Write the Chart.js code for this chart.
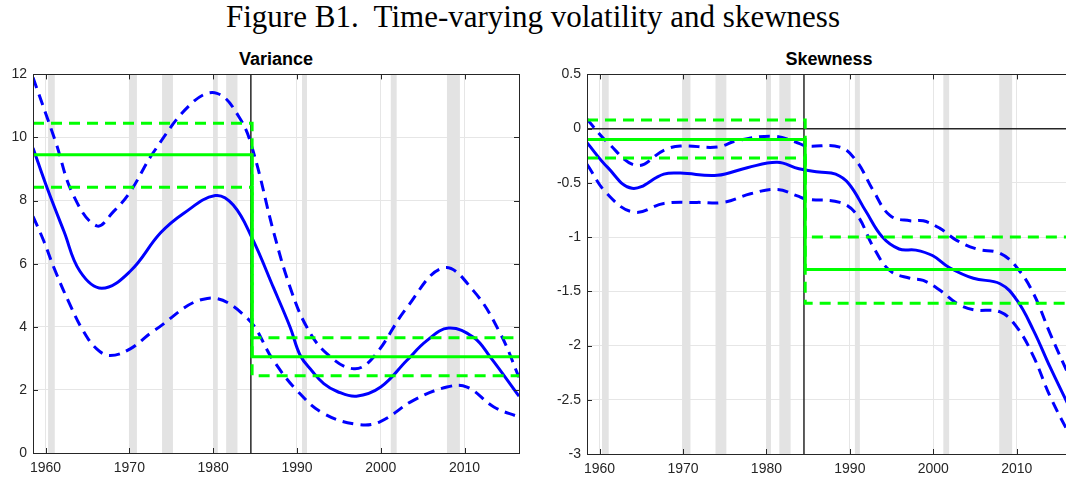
<!DOCTYPE html>
<html>
<head>
<meta charset="utf-8">
<title>Figure B1</title>
<script src="https://cdn.jsdelivr.net/npm/chart.js"></script>
<style>
  html, body { margin: 0; padding: 0; background: #fff; overflow: hidden; }
  #wrap { position: relative; width: 1066px; height: 478px; overflow: hidden; }
  .fig-title {
    position: absolute; left: 0; top: 0; width: 1066px; line-height: 34px;
    text-align: center; font-family: 'Liberation Serif', serif; font-size: 31px; color: #000;
    white-space: pre;
  }
  .panel-title {
    position: absolute; top: 49px; line-height: 20px; text-align: center;
    font-family: 'Liberation Sans', Arial, sans-serif; font-weight: bold; font-size: 18px; color: #000;
  }
  canvas { position: absolute; }
</style>
</head>
<body>
<div id="wrap">
  <div class="fig-title">Figure B1.  Time-varying volatility and skewness</div>
  <div class="panel-title" style="left:33px; width:486px;">Variance</div>
  <div class="panel-title" style="left:587px; width:484px;">Skewness</div>
  <canvas id="variance-chart" width="530" height="418" style="left:0; top:60px;"></canvas>
  <canvas id="skewness-chart" width="530" height="418" style="left:550px; top:60px;"></canvas>
</div>

<script>
// ---- sample span and axis ticks ----
const xMin = 1958.5;
const xMax = 2016.5;
const yearTicks = [1960, 1970, 1980, 1990, 2000, 2010];
const varianceTicks = [0, 2, 4, 6, 8, 10, 12];
const skewnessTicks = [-3, -2.5, -2, -1.5, -1, -0.5, 0, 0.5];

// NBER recessions (shaded)
const recessionStart = [1960.3, 1969.95, 1973.9, 1980.0, 1981.55, 1990.6, 2001.2, 2007.9];
const recessionEnd   = [1961.1, 1970.9, 1975.2, 1980.55, 1982.9, 1991.2, 2001.9, 2009.45];

// structural break date (black line) and where the regime means switch (green)
const breakYear = 1984.5;
const regimeSwitch = 1984.65;

// ---- variance: estimate with bands ----
const varMidYears = [1958.5, 1960.2, 1962.2, 1964.1, 1966.7, 1970.1, 1973.7, 1976.5, 1980.25, 1982.4, 1984.65,
                     1987.2, 1989.2, 1990.4, 1991.8, 1993.2, 1994.8, 1997.1, 2000, 2003.1, 2005.5, 2008.1,
                     2011.1, 2013.1, 2016.5];
const varMid      = [9.67, 8.39, 7.02, 5.76, 5.22, 5.76, 6.97, 7.6, 8.16, 7.86, 6.81,
                     5.24, 3.98, 3.09, 2.6, 2.2, 1.95, 1.8, 2.09, 2.93, 3.56, 3.96,
                     3.66, 3.03, 1.8];

const varHiYears  = [1958.5, 1961.2, 1963.3, 1966.1, 1968.1, 1970.1, 1972.9, 1977.5, 1980.45, 1983.2,
                     1984.8, 1987.2, 1989.2, 1991.2, 1993.6, 1996.8, 1999.1, 2003.1, 2007.5, 2011.1, 2014.3, 2016.5];
const varHi       = [11.9, 9.86, 8.18, 7.2, 7.65, 8.28, 9.54, 11.1, 11.4, 10.6,
                     9.54, 7.02, 5.24, 3.98, 3.14, 2.67, 3.03, 4.6, 5.87, 5.13, 3.77, 2.4];

const varLoYears  = [1958.5, 1959.8, 1961, 1962.9, 1964.5, 1966.1, 1967.7, 1970.1, 1972.9, 1979.3, 1984,
                     1987.2, 1990, 1993.2, 1997.2, 1999.9, 2003.9, 2007.9, 2010.3, 2013.5, 2016.5];
const varLo       = [7.5, 6.71, 5.87, 4.71, 3.87, 3.3, 3.09, 3.3, 3.87, 4.9, 4.29,
                     2.93, 1.98, 1.25, 0.91, 0.99, 1.67, 2.09, 2.09, 1.46, 1.14];

// regime means (before / after the break) with bands
const varRegimeMean = [9.45, 3.05];
const varRegimeHi   = [10.45, 3.65];
const varRegimeLo   = [8.42, 2.45];

// ---- skewness: estimate with bands ----
const skewMidYears = [1958.5, 1961, 1963.9, 1967.7, 1969.7, 1974.1, 1977.7, 1981.3, 1983.9, 1986.3, 1988.3, 1989.9,
                      1991.9, 1993.9, 1995.9, 1997.9, 1999.9, 2001.9, 2004.8, 2008, 2010, 2012, 2014, 2016.5];
const skewMid      = [-0.13, -0.36, -0.55, -0.42, -0.41, -0.43, -0.36, -0.31, -0.37, -0.4, -0.42, -0.51,
                      -0.76, -1.0, -1.11, -1.12, -1.17, -1.28, -1.38, -1.43, -1.58, -1.86, -2.2, -2.6];

const skewHiYears  = [1958.5, 1961, 1964.5, 1967.7, 1969.7, 1974.1, 1976.5, 1980.9, 1983.7, 1984.8, 1988.8, 1990.8,
                      1992.8, 1994.8, 1997.2, 1998.8, 2000.8, 2002.8, 2005.2, 2008, 2010, 2012, 2014, 2016.5];
const skewHi       = [0.086, -0.13, -0.34, -0.2, -0.16, -0.17, -0.11, -0.07, -0.13, -0.16, -0.17, -0.3,
                      -0.57, -0.8, -0.85, -0.85, -0.92, -1.03, -1.11, -1.15, -1.28, -1.52, -1.89, -2.32];

const skewLoYears  = [1958.5, 1960.9, 1964.1, 1967.7, 1971.7, 1974.9, 1978.1, 1981.3, 1983.7, 1984.8, 1988.8, 1990.8,
                      1992.8, 1994.8, 1997.2, 1998.8, 2000.8, 2002.8, 2004.8, 2008, 2010, 2012, 2014, 2016.5];
const skewLo       = [-0.33, -0.6, -0.77, -0.69, -0.68, -0.68, -0.6, -0.56, -0.62, -0.65, -0.68, -0.79,
                      -1.09, -1.31, -1.38, -1.4, -1.49, -1.61, -1.67, -1.69, -1.83, -2.1, -2.47, -2.85];

const skewRegimeMean = [-0.1, -1.3];
const skewRegimeHi   = [0.08, -1.0];
const skewRegimeLo   = [-0.27, -1.61];

const BLUE = '#0000ff';
const GREEN = '#00ff00';
const AXIS_COLOR = '#262626';

// pairs two parallel arrays into {x, y} points
function toPoints(xs, ys) {
    return xs.map((x, i) => ({ x: x, y: ys[i] }));
}

// step line: one level before the switch, another after
function regimeStep(levels) {
    return [
        { x: xMin, y: levels[0] },
        { x: regimeSwitch, y: levels[0] },
        { x: regimeSwitch, y: levels[1] },
        { x: xMax, y: levels[1] }
    ];
}

// shaded recession bars behind the curves
const recessionShading = {
    id: 'recessionShading',
    beforeDatasetsDraw(chart) {
        const { ctx, chartArea, scales } = chart;
        ctx.save();
        ctx.fillStyle = '#e3e3e3';
        recessionStart.forEach((start, i) => {
            const x0 = scales.x.getPixelForValue(start);
            const x1 = scales.x.getPixelForValue(recessionEnd[i]);
            ctx.fillRect(x0, chartArea.top, x1 - x0, chartArea.bottom - chartArea.top);
        });
        ctx.restore();
    }
};

// box around the axes with small inward tick marks
const axesBox = {
    id: 'axesBox',
    afterDraw(chart) {
        const { ctx, chartArea: a, scales } = chart;
        const len = 5;
        ctx.save();
        ctx.strokeStyle = AXIS_COLOR;
        ctx.lineWidth = 1;
        ctx.beginPath();
        scales.x.ticks.forEach(t => {
            const px = Math.round(scales.x.getPixelForValue(t.value)) + 0.5;
            ctx.moveTo(px, a.bottom); ctx.lineTo(px, a.bottom - len);
            ctx.moveTo(px, a.top); ctx.lineTo(px, a.top + len);
        });
        scales.y.ticks.forEach(t => {
            const py = Math.round(scales.y.getPixelForValue(t.value)) + 0.5;
            ctx.moveTo(a.left, py); ctx.lineTo(a.left + len, py);
            ctx.moveTo(a.right, py); ctx.lineTo(a.right - len, py);
        });
        ctx.stroke();
        ctx.strokeRect(Math.round(a.left) + 0.5, Math.round(a.top) + 0.5,
                       Math.round(a.right - a.left), Math.round(a.bottom - a.top));
        ctx.restore();
    }
};

function lineSet(points, color, dashed, order) {
    return {
        data: points,
        borderColor: color,
        borderWidth: 3,
        borderDash: dashed ? [11, 7] : [],
        pointRadius: 0,
        fill: false,
        tension: 0,
        order: order
    };
}

function curveSet(points, dashed) {
    const ds = lineSet(points, BLUE, dashed, 2);
    ds.tension = 0.4;
    return ds;
}

function blackSet(points) {
    const ds = lineSet(points, AXIS_COLOR, false, 3);
    ds.borderWidth = 1.5;
    return ds;
}

/**
 * Builds one panel: recession shading, black reference lines,
 * green regime means and the blue estimate with its bands.
 */
function makePanel(canvasId, cfg) {
    const datasets = [
        lineSet(regimeStep(cfg.regimeMean), GREEN, false, 1),
        lineSet(regimeStep(cfg.regimeHi), GREEN, true, 1),
        lineSet(regimeStep(cfg.regimeLo), GREEN, true, 1),
        curveSet(cfg.mid, false),
        curveSet(cfg.hi, true),
        curveSet(cfg.lo, true),
        blackSet([{ x: breakYear, y: cfg.yMin }, { x: breakYear, y: cfg.yMax }])
    ];
    if (cfg.zeroLine) {
        datasets.push(blackSet([{ x: xMin, y: 0 }, { x: xMax, y: 0 }]));
    }

    const tickFont = { family: "'Liberation Sans', Arial, sans-serif", size: 14 };

    return new Chart(document.getElementById(canvasId), {
        type: 'line',
        data: { datasets: datasets },
        options: {
            responsive: false,
            animation: false,
            devicePixelRatio: 1,
            layout: { padding: { left: 0, top: cfg.padTop, right: cfg.padRight, bottom: 0 } },
            plugins: { legend: { display: false }, tooltip: { enabled: false }, title: { display: false } },
            scales: {
                x: {
                    type: 'linear',
                    min: xMin,
                    max: xMax,
                    afterBuildTicks: s => { s.ticks = yearTicks.map(v => ({ value: v })); },
                    afterFit: s => { s.height = cfg.xAxisHeight; },
                    grid: { color: '#e6e6e6', drawTicks: false },
                    border: { display: false },
                    ticks: { color: AXIS_COLOR, font: tickFont, padding: 7, maxRotation: 0, autoSkip: false,
                             callback: v => String(v) }
                },
                y: {
                    type: 'linear',
                    min: cfg.yMin,
                    max: cfg.yMax,
                    afterBuildTicks: s => { s.ticks = cfg.yTicks.map(v => ({ value: v })); },
                    afterFit: s => { s.width = cfg.yAxisWidth; },
                    grid: { color: '#e6e6e6', drawTicks: false },
                    border: { display: false },
                    ticks: { color: AXIS_COLOR, font: tickFont, padding: 6, callback: v => String(v) }
                }
            }
        },
        plugins: [recessionShading, axesBox]
    });
}

makePanel('variance-chart', {
    yMin: 0, yMax: 12, yTicks: varianceTicks,
    padTop: 12, padRight: 11, xAxisHeight: 25, yAxisWidth: 33,
    mid: toPoints(varMidYears, varMid),
    hi: toPoints(varHiYears, varHi),
    lo: toPoints(varLoYears, varLo),
    regimeMean: varRegimeMean, regimeHi: varRegimeHi, regimeLo: varRegimeLo,
    zeroLine: false
});

makePanel('skewness-chart', {
    yMin: -3, yMax: 0.5, yTicks: skewnessTicks,
    padTop: 13, padRight: 9, xAxisHeight: 24, yAxisWidth: 37,
    mid: toPoints(skewMidYears, skewMid),
    hi: toPoints(skewHiYears, skewHi),
    lo: toPoints(skewLoYears, skewLo),
    regimeMean: skewRegimeMean, regimeHi: skewRegimeHi, regimeLo: skewRegimeLo,
    zeroLine: true
});
</script>
</body>
</html>
